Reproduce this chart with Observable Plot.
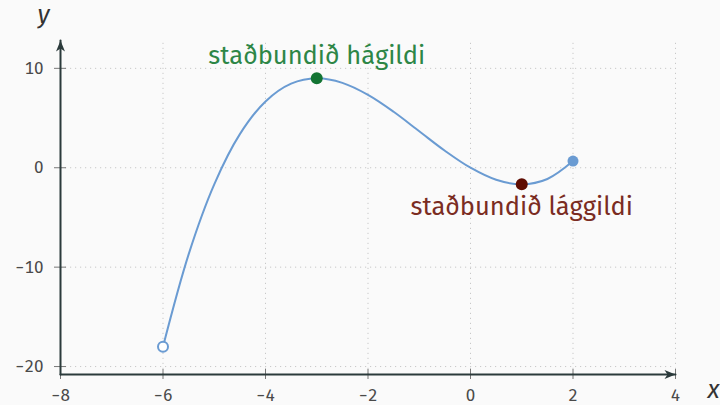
<!DOCTYPE html>
<html><head><meta charset="utf-8">
<script src="https://cdn.jsdelivr.net/npm/d3@7"></script>
<script src="https://cdn.jsdelivr.net/npm/@observablehq/plot@0.6"></script>
<style>html,body{margin:0;padding:0;background:#fafafa;}</style>
</head><body><div id="chart"></div>
<script>
const xDomain = [-8, 4];
const yDomain = [-20.8, 12.8];
const xTicks = [-8, -6, -4, -2, 0, 2, 4];
const yTicks = [-20, -10, 0, 10];
const curveX = [-6, -5.5, -5, -4.5, -4, -3.5, -3, -2.5, -2, -1.5, -1, -0.5, 0, 0.5, 1, 1.5, 2];
const curveY = [-18, -8.71, -1.67, 3.38, 6.67, 8.46, 9, 8.54, 7.33, 5.63, 3.67, 1.71, 0, -1.21, -1.67, -1.13, 0.67];
const startPoint = [{x: -6, y: -18}];
const endPoint = [{x: 2, y: 0.67}];
const maxPoint = [{x: -3, y: 9, label: "staðbundið hágildi"}];
const minPoint = [{x: 1, y: -1.67, label: "staðbundið lággildi"}];

const curve = curveX.map((x, i) => ({x, y: curveY[i]}));
const font = "'Fira Sans', 'Open Sans', sans-serif";
const axisColor = "#2b3a3b";

const stealth = {
  draw(ctx, size) {
    ctx.moveTo(0, 0);
    ctx.lineTo(-11, -4.5);
    ctx.lineTo(-8, 0);
    ctx.lineTo(-11, 4.5);
    ctx.closePath();
  }
};

const xAxisLine = [{x: xDomain[0], y: yDomain[0]}, {x: xDomain[1], y: yDomain[0]}];
const yAxisLine = [{x: xDomain[0], y: yDomain[0]}, {x: xDomain[0], y: yDomain[1]}];

const chart = Plot.plot({
  width: 720,
  height: 405,
  marginTop: 40,
  marginBottom: 31,
  marginLeft: 60,
  marginRight: 45,
  style: {background: "#fafafa", fontFamily: font, fontSize: "17px", color: "#4a4a4a"},
  x: {domain: xDomain},
  y: {domain: yDomain},
  marks: [
    Plot.gridX(xTicks.filter(d => d !== xDomain[0]), {stroke: "#c8c8c8", strokeOpacity: 1, strokeDasharray: "1.2,3.8", y1: yDomain[0], y2: yDomain[1]}),
    Plot.gridY(yTicks, {stroke: "#c8c8c8", strokeOpacity: 1, strokeDasharray: "1.2,3.8", x1: xDomain[0], x2: xDomain[1]}),
    Plot.axisX(xTicks, {tickSize: 0, tickPadding: 14, fontSize: 17, fill: "#4a4a4a", label: null}),
    Plot.axisY(yTicks, {tickSize: 0, tickPadding: 17, fontSize: 17, fill: "#4a4a4a", label: null}),
    Plot.ruleX(xTicks, {y1: yDomain[0], y2: yDomain[0], insetTop: -5, insetBottom: -5, stroke: "#777", strokeWidth: 1}),
    Plot.ruleY(yTicks, {x1: xDomain[0], x2: xDomain[0], insetLeft: -6, insetRight: -6, stroke: "#777", strokeWidth: 1}),
    Plot.line(xAxisLine, {x: "x", y: "y", stroke: axisColor, strokeWidth: 2}),
    Plot.line(yAxisLine, {x: "x", y: "y", stroke: axisColor, strokeWidth: 2}),
    Plot.dot([xAxisLine[1]], {x: "x", y: "y", symbol: stealth, fill: axisColor, stroke: "none", r: 5}),
    Plot.dot([yAxisLine[1]], {x: "x", y: "y", symbol: stealth, fill: axisColor, stroke: "none", r: 5, rotate: -90}),
    Plot.text(["x"], {x: xDomain[1], y: yDomain[0], dx: 38, dy: 23, fontStyle: "italic", fontSize: 25, fill: "#333", textAnchor: "middle", lineAnchor: "bottom"}),
    Plot.text(["y"], {x: xDomain[0], y: yDomain[1], dx: -17, dy: -18, fontStyle: "italic", fontSize: 25, fill: "#333", textAnchor: "middle", lineAnchor: "bottom"}),
    Plot.line(curve, {x: "x", y: "y", curve: "catmull-rom", stroke: "#6a9bd2", strokeWidth: 2}),
    Plot.dot(startPoint, {x: "x", y: "y", r: 5, fill: "#ffffff", stroke: "#6a9bd2", strokeWidth: 2}),
    Plot.dot(endPoint, {x: "x", y: "y", r: 5.5, fill: "#6a9bd2", stroke: "none"}),
    Plot.dot(maxPoint, {x: "x", y: "y", r: 6, fill: "#137433", stroke: "none"}),
    Plot.dot(minPoint, {x: "x", y: "y", r: 6, fill: "#5e0c02", stroke: "none"}),
    Plot.text(maxPoint, {x: "x", y: "y", text: "label", dy: -14, lineAnchor: "bottom", fontSize: 25.5, fill: "#2d8646"}),
    Plot.text(minPoint, {x: "x", y: "y", text: "label", dy: 31, lineAnchor: "bottom", fontSize: 25.5, fill: "#7a2c22"})
  ]
});
document.getElementById("chart").appendChild(chart);
</script>
</body></html>
